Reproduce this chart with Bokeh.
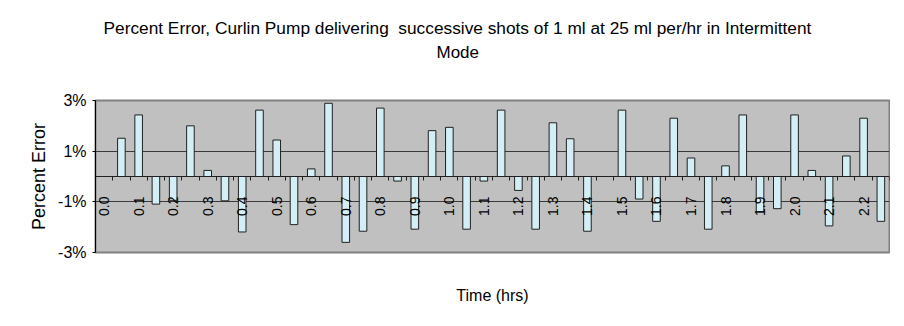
import math
from bokeh.plotting import figure
from bokeh.models import (ColumnDataSource, LinearAxis, FixedTicker, PrintfTickFormatter,
                          Title, Range1d)
from bokeh.embed import file_html
from bokeh.resources import INLINE

# ---- data -------------------------------------------------------------
category_index = list(range(46))
percent_error = [None, 1.51, 2.43, -1.09, -0.94, 2.00, 0.24, -0.96, -2.19, 2.62,
                 1.44, -1.90, 0.30, 2.89, -2.60, -2.16, 2.70, -0.18, -2.08, 1.81,
                 1.94, -2.08, -0.18, 2.62, -0.55, -2.08, 2.12, 1.49, -2.16, None,
                 2.62, -0.89, -1.77, 2.30, 0.73, -2.08, 0.42, 2.43, -1.40, -1.27,
                 2.43, 0.24, -1.95, 0.81, 2.30, -1.77]
label_index = list(range(0, 46, 2))
time_labels = ["0.0", "0.1", "0.2", "0.3", "0.4", "0.5", "0.6", "0.7", "0.8", "0.9",
               "1.0", "1.1", "1.2", "1.3", "1.4", "1.5", "1.6", "1.7", "1.8", "1.9",
               "2.0", "2.1", "2.2"]
y_ticks = [-3, -1, 1, 3]

FONT = "Liberation Sans"

src = ColumnDataSource(dict(
    x=category_index,
    top=[float("nan") if v is None else v for v in percent_error],
))

p = figure(width=890, height=318, output_backend="svg", toolbar_location=None,
           x_range=Range1d(-0.5, 45.5), y_range=Range1d(-3, 3),
           x_axis_location=None, y_axis_location="left",
           min_border_left=95, min_border_right=1, min_border_top=100,
           min_border_bottom=66)

p.background_fill_color = "#C0C0C0"
p.border_fill_color = "white"
p.outline_line_color = "#808080"
p.outline_line_width = 2

# grid
p.xgrid.visible = False
p.ygrid.ticker = FixedTicker(ticks=y_ticks)
p.ygrid.grid_line_color = "#3a3a3a"
p.ygrid.grid_line_width = 1

# bars
p.vbar(x="x", top="top", bottom=0, width=0.44, source=src,
       fill_color="#D3EEF5", line_color="#202020", line_width=1)

# y axis
ya = p.yaxis[0]
ya.ticker = FixedTicker(ticks=y_ticks)
ya.formatter = PrintfTickFormatter(format="%d%%")
ya.minor_tick_line_color = None
ya.major_tick_in = 0
ya.major_tick_out = 3
ya.major_label_standoff = 6
ya.axis_line_color = "black"
ya.major_tick_line_color = "black"
ya.major_label_text_font = FONT
ya.major_label_text_font_size = "16px"
ya.major_label_text_color = "black"
ya.axis_label = "Percent Error"
ya.axis_label_text_font = FONT
ya.axis_label_text_font_size = "18px"
ya.axis_label_text_font_style = "normal"
ya.axis_label_text_color = "black"
ya.axis_label_standoff = 6

# category axis at zero: tick marks at category boundaries
bounds = [i - 0.5 for i in category_index] + [category_index[-1] + 0.5]
tick_axis = LinearAxis(fixed_location=0, ticker=FixedTicker(ticks=bounds))
tick_axis.major_label_text_font_size = "0px"
tick_axis.major_label_text_color = None
tick_axis.minor_tick_line_color = None
tick_axis.major_tick_in = 0
tick_axis.major_tick_out = 4
tick_axis.major_tick_line_color = "#202020"
tick_axis.axis_line_color = "#202020"
tick_axis.axis_line_width = 1
p.add_layout(tick_axis, "below")

# category labels at zero, rotated
lab_axis = LinearAxis(fixed_location=0, ticker=FixedTicker(ticks=label_index))
lab_axis.major_label_overrides = {i: t for i, t in zip(label_index, time_labels)}
lab_axis.major_label_orientation = math.pi / 2
lab_axis.major_label_text_font = FONT
lab_axis.major_label_text_font_size = "14px"
lab_axis.major_label_text_color = "black"
lab_axis.major_label_standoff = 14
lab_axis.major_tick_line_color = None
lab_axis.minor_tick_line_color = None
lab_axis.axis_line_color = None
p.add_layout(lab_axis, "below")

# titles (stacked outward from the frame)
p.add_layout(Title(text=" ", text_font=FONT, text_font_size="20px", standoff=14), "above")
p.add_layout(Title(text="Mode", align="left", offset=341, standoff=2,
                   text_font=FONT, text_font_size="17px", text_font_style="normal",
                   text_color="black"), "above")
p.add_layout(Title(text="Percent Error, Curlin Pump delivering \u00a0successive shots of 1 ml at 25 ml per/hr in Intermittent",
                   align="left", offset=8, standoff=3,
                   text_font=FONT, text_font_size="17.3px", text_font_style="normal",
                   text_color="black"), "above")
p.add_layout(Title(text=" ", text_font=FONT, text_font_size="22px", standoff=0), "below")
p.add_layout(Title(text="Time (hrs)", align="center", standoff=10,
                   text_font=FONT, text_font_size="16px", text_font_style="normal",
                   text_color="black"), "below")

open("out.html", "w").write(file_html(p, INLINE))
